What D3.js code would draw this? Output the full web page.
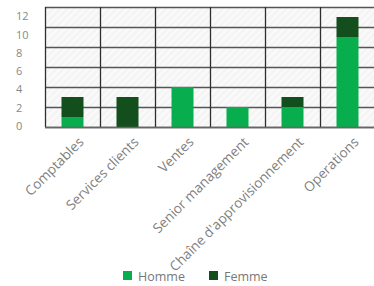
<!DOCTYPE html>
<html>
<head>
<meta charset="utf-8">
<script src="https://cdn.jsdelivr.net/npm/d3@7"></script>
<style>
  body { margin: 0; background: #fff; }
  svg { display: block; font-family: "Open Sans", sans-serif; }
</style>
</head>
<body>
<svg id="chart" width="374" height="286"></svg>
<script>
const categories = ["Comptables", "Services clients", "Ventes", "Senior management", "Chaîne d'approvisionnement", "Operations"];
const homme = [1, 0, 4, 2, 2, 9];
const femme = [2, 3, 0, 0, 1, 2];
const yTicks = [0, 2, 4, 6, 8, 10, 12];
const seriesNames = ["Homme", "Femme"];
const colors = ["#08ad4d", "#124f1c"];

const svg = d3.select("#chart");
const plot = { left: 45, right: 375, top: 7, bottom: 127 };

const x = d3.scaleBand().domain(categories).range([plot.left, plot.right]).padding(0);
const y = d3.scaleLinear().domain([0, 12]).range([plot.bottom, plot.top]);
// tick labels sit on a slightly tighter spacing than the gridlines
const yLabel = d3.scaleLinear().domain([0, 12]).range([126, 16.5]);

const defs = svg.append("defs");
const pat = defs.append("pattern")
  .attr("id", "stripes")
  .attr("patternUnits", "userSpaceOnUse")
  .attr("width", 5).attr("height", 5)
  .attr("patternTransform", "rotate(45)");
pat.append("rect").attr("width", 5).attr("height", 5).attr("fill", "#f4f4f4");
pat.append("rect").attr("width", 2.5).attr("height", 5).attr("fill", "#fafafa");

svg.append("rect")
  .attr("x", plot.left).attr("y", plot.top)
  .attr("width", plot.right - plot.left).attr("height", plot.bottom - plot.top)
  .attr("fill", "url(#stripes)");

// horizontal gridlines
svg.append("g").selectAll("line").data(yTicks).enter().append("line")
  .attr("x1", plot.left).attr("x2", plot.right)
  .attr("y1", (d) => y(d) + 0.5).attr("y2", (d) => y(d) + 0.5)
  .attr("stroke", "#555").attr("stroke-width", 1.3);

// vertical cell borders
svg.append("g").selectAll("line").data(categories).enter().append("line")
  .attr("x1", (d) => x(d) + 0.5).attr("x2", (d) => x(d) + 0.5)
  .attr("y1", plot.top).attr("y2", plot.bottom)
  .attr("stroke", "#2e2e2e").attr("stroke-width", 1.3);

// stacked bars
const rows = categories.map((c, i) => ({ cat: c, Homme: homme[i], Femme: femme[i] }));
const stacked = d3.stack().keys(seriesNames)(rows);
const barW = x.bandwidth() * 0.4;

svg.append("g").selectAll("g").data(stacked).enter().append("g")
  .attr("fill", (d, i) => colors[i])
  .selectAll("rect").data((d) => d).enter().append("rect")
  .attr("x", (d) => x(d.data.cat) + (x.bandwidth() - barW) / 2)
  .attr("y", (d) => y(d[1]))
  .attr("width", barW)
  .attr("height", (d) => y(d[0]) - y(d[1]));

// bottom axis line
svg.append("line")
  .attr("x1", plot.left).attr("x2", plot.right)
  .attr("y1", plot.bottom + 0.5).attr("y2", plot.bottom + 0.5)
  .attr("stroke", "#666").attr("stroke-width", 1.5);

// y labels
svg.append("g").selectAll("text").data(yTicks).enter().append("text")
  .attr("x", 16).attr("y", (d) => yLabel(d))
  .attr("dy", "0.35em")
  .attr("fill", "#888").attr("font-size", 11)
  .text((d) => d);

// x labels
svg.append("g").selectAll("text").data(categories).enter().append("text")
  .attr("transform", (d) => `translate(${x(d) + x.bandwidth() / 2 + 12},${plot.bottom + 16}) rotate(-45)`)
  .attr("text-anchor", "end")
  .attr("fill", "#808080").attr("font-size", 13.6)
  .text((d) => d);

// legend
const legend = svg.append("g").selectAll("g").data(seriesNames).enter().append("g")
  .attr("transform", (d, i) => `translate(123,271) translate(${i * 86},0)`);
legend.append("rect").attr("width", 9).attr("height", 9).attr("fill", (d, i) => colors[i]);
legend.append("text").attr("x", 15).attr("y", 5).attr("dy", "0.38em")
  .attr("fill", "#777").attr("font-size", 12.5)
  .text((d) => d);
</script>
</body>
</html>
